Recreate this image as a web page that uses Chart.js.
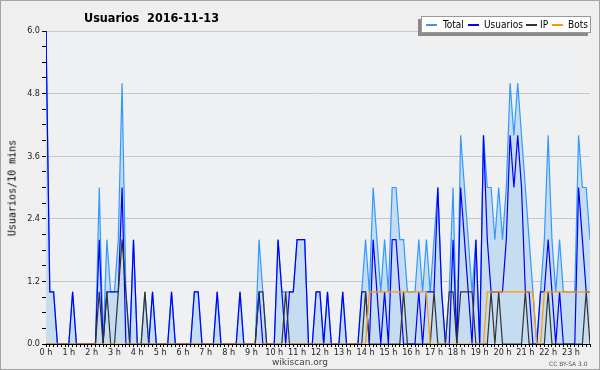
<!DOCTYPE html>
<html>
<head>
<meta charset="utf-8">
<script src="https://cdn.jsdelivr.net/npm/chart.js@4.4.0/dist/chart.umd.min.js"></script>
<style>
  body { margin: 0; background: #fff; }
  #wrap { position: relative; width: 600px; height: 370px; background: #efefef; overflow: hidden; }
  #frame { position: absolute; left: 0; top: 0; width: 598px; height: 368px; border: 1px solid #a4a4a4; pointer-events: none; }
  .t { position: absolute; white-space: nowrap; line-height: 1; }
  #title { left: 84px; top: 10px; font: bold 12.5px 'DejaVu Sans Condensed', 'DejaVu Sans'; color: #000; }
  #ytitle { left: 12px; top: 188px; transform: translate(-50%, -50%) rotate(-90deg); font: 10px 'DejaVu Sans Mono'; color: #000; }
  #legend { position: absolute; left: 421px; top: 16px; width: 168px; height: 15px; background: #fff; border: 1px solid #999; box-shadow: -3px 3px 0 #8a8a8a; }
  .sw { position: absolute; top: 24px; width: 11px; height: 1.5px; }
  .lg { top: 19px; font: 10px 'DejaVu Sans Condensed', 'DejaVu Sans'; color: #000; }
  #foot { left: 272px; top: 357px; font: 9px 'DejaVu Sans'; color: #444; }
  #cc { left: 549px; top: 360px; font: 6px 'DejaVu Sans'; color: #555; }
</style>
</head>
<body>
<div id="wrap">
  <canvas id="c" width="600" height="370"></canvas>
  <div class="t" id="title">Usuarios&nbsp;&nbsp;2016-11-13</div>
  <div class="t" id="ytitle">Usuarios/10 mins</div>
  <div id="legend"></div>
  <div class="sw" style="left:426px;background:#3399ff"></div>
  <div class="t lg" style="left:443px">Total</div>
  <div class="sw" style="left:468px;background:#0000ff"></div>
  <div class="t lg" style="left:484px">Usuarios</div>
  <div class="sw" style="left:526px;background:#333"></div>
  <div class="t lg" style="left:540px">IP</div>
  <div class="sw" style="left:552px;background:#ff9900"></div>
  <div class="t lg" style="left:568px">Bots</div>
  <div class="t" id="foot">wikiscan.org</div>
  <div class="t" id="cc">CC BY-SA 3.0</div>
  <div id="frame"></div>
</div>
<script>
// one value per 10 minutes, 144 slots
const hours = ['0 h', '1 h', '2 h', '3 h', '4 h', '5 h', '6 h', '7 h', '8 h', '9 h', '10 h', '11 h',
  '12 h', '13 h', '14 h', '15 h', '16 h', '17 h', '18 h', '19 h', '20 h', '21 h', '22 h', '23 h'];
const yLabels = [0, 1.2, 2.4, 3.6, 4.8, 6.0];

const total = [
  6, 1, 1, 0, 0, 0, 0, 1, 0, 0, 0, 0,
  0, 0, 3, 0, 2, 1, 1, 2, 5, 1, 0, 2,
  0, 0, 1, 0, 1, 0, 0, 0, 0, 1, 0, 0,
  0, 0, 0, 1, 1, 0, 0, 0, 0, 1, 0, 0,
  0, 0, 0, 1, 0, 0, 0, 0, 2, 1, 0, 0,
  0, 2, 1, 1, 1, 1, 2, 2, 2, 0, 0, 1,
  1, 0, 1, 0, 0, 0, 1, 0, 0, 0, 0, 1,
  2, 1, 3, 2, 1, 2, 1, 3, 3, 2, 2, 1,
  1, 1, 2, 1, 2, 1, 2, 3, 1, 0, 1, 3,
  0, 4, 3, 2, 1, 2, 0, 4, 3, 3, 2, 3,
  2, 3, 5, 4, 5, 4, 3, 2, 1, 0, 1, 2,
  4, 2, 1, 2, 1, 1, 1, 1, 4, 3, 3, 2
];
const usuarios = [
  6, 1, 1, 0, 0, 0, 0, 1, 0, 0, 0, 0,
  0, 0, 2, 0, 1, 1, 1, 1, 3, 0, 0, 2,
  0, 0, 0, 0, 1, 0, 0, 0, 0, 1, 0, 0,
  0, 0, 0, 1, 1, 0, 0, 0, 0, 1, 0, 0,
  0, 0, 0, 1, 0, 0, 0, 0, 1, 0, 0, 0,
  0, 2, 1, 0, 1, 1, 2, 2, 2, 0, 0, 1,
  1, 0, 1, 0, 0, 0, 1, 0, 0, 0, 0, 1,
  1, 0, 2, 1, 0, 1, 0, 2, 2, 1, 0, 0,
  0, 0, 1, 0, 1, 1, 1, 3, 1, 0, 0, 2,
  0, 3, 2, 1, 0, 2, 0, 4, 2, 1, 1, 1,
  1, 2, 4, 3, 4, 3, 1, 1, 0, 0, 1, 1,
  2, 1, 0, 1, 0, 0, 0, 0, 3, 2, 1, 1
];
const ip = [
  0, 0, 0, 0, 0, 0, 0, 0, 0, 0, 0, 0,
  0, 0, 1, 0, 1, 0, 0, 1, 2, 1, 0, 0,
  0, 0, 1, 0, 0, 0, 0, 0, 0, 0, 0, 0,
  0, 0, 0, 0, 0, 0, 0, 0, 0, 0, 0, 0,
  0, 0, 0, 0, 0, 0, 0, 0, 1, 1, 0, 0,
  0, 0, 0, 1, 0, 0, 0, 0, 0, 0, 0, 0,
  0, 0, 0, 0, 0, 0, 0, 0, 0, 0, 0, 0,
  1, 0, 0, 0, 0, 0, 0, 0, 0, 0, 1, 0,
  0, 0, 0, 0, 0, 0, 1, 0, 0, 0, 1, 1,
  0, 1, 1, 1, 1, 0, 0, 0, 0, 1, 0, 1,
  0, 0, 0, 0, 0, 0, 1, 0, 0, 0, 0, 0,
  1, 0, 0, 0, 0, 0, 0, 0, 0, 0, 1, 0
];
const bots = [
  0, 0, 0, 0, 0, 0, 0, 0, 0, 0, 0, 0,
  0, 0, 0, 0, 0, 0, 0, 0, 0, 0, 0, 0,
  0, 0, 0, 0, 0, 0, 0, 0, 0, 0, 0, 0,
  0, 0, 0, 0, 0, 0, 0, 0, 0, 0, 0, 0,
  0, 0, 0, 0, 0, 0, 0, 0, 0, 0, 0, 0,
  0, 0, 0, 0, 0, 0, 0, 0, 0, 0, 0, 0,
  0, 0, 0, 0, 0, 0, 0, 0, 0, 0, 0, 0,
  0, 1, 1, 1, 1, 1, 1, 1, 1, 1, 1, 1,
  1, 1, 1, 1, 1, 0, 0, 0, 0, 0, 0, 0,
  0, 0, 0, 0, 0, 0, 0, 0, 1, 1, 1, 1,
  1, 1, 1, 1, 1, 1, 1, 1, 1, 0, 0, 1,
  1, 1, 1, 1, 1, 1, 1, 1, 1, 1, 1, 1
];

const FONT = "'DejaVu Sans Condensed', 'DejaVu Sans'";
const pts = (arr) => arr.map((v, i) => ({ x: i, y: v }));
const isLabelled = (v) => yLabels.some((l) => Math.abs(l - v) < 1e-6);

// light panel behind the plot
const plotBg = {
  id: 'plotBg',
  beforeDraw(chart) {
    const { ctx, chartArea: a } = chart;
    ctx.save();
    ctx.fillStyle = '#eef0f2';
    ctx.fillRect(a.left, a.top, a.right - a.left, a.bottom - a.top);
    ctx.restore();
  },
};

const line = (label, data, color, order, extra) =>
  Object.assign({
    label, data: pts(data), borderColor: color, borderWidth: 1.2,
    pointRadius: 0, tension: 0, fill: false, order,
  }, extra || {});

new Chart(document.getElementById('c'), {
  type: 'line',
  data: {
    datasets: [
      line('Bots', bots, '#ff9900', 0),
      line('IP', ip, '#333333', 1),
      line('Usuarios', usuarios, '#0000ff', 2),
      line('Total', total, '#3399ff', 3, { fill: 'origin', backgroundColor: '#c6ddf1' }),
    ],
  },
  options: {
    responsive: false,
    animation: false,
    devicePixelRatio: 1,
    layout: { padding: { left: 0, top: 31, right: 10, bottom: 0 } },
    plugins: { legend: { display: false }, tooltip: { enabled: false } },
    scales: {
      x: {
        type: 'linear', min: 0, max: 143,
        afterFit: (s) => { s.height = 26; },
        border: { color: '#000' },
        grid: { drawOnChartArea: false, tickLength: 3, tickColor: '#000' },
        ticks: {
          stepSize: 1, autoSkip: false, maxRotation: 0, padding: 0,
          color: '#222', font: { family: FONT, size: 9 },
          callback: (v) => (v % 6 === 0 ? hours[v / 6] : ''),
        },
      },
      y: {
        min: 0, max: 6,
        afterFit: (s) => { s.width = 46; },
        border: { color: '#000' },
        grid: {
          color: (c) => (c.tick && c.tick.value > 0.1 && isLabelled(c.tick.value) ? '#c8c8c8' : 'rgba(0,0,0,0)'),
          tickColor: '#000', tickLength: 4,
        },
        ticks: {
          stepSize: 0.3, autoSkip: false, padding: 2,
          color: '#222', font: { family: FONT, size: 9 },
          callback: (v) => (isLabelled(v) ? v.toFixed(1) : ''),
        },
      },
    },
  },
  plugins: [plotBg],
});
</script>
</body>
</html>
